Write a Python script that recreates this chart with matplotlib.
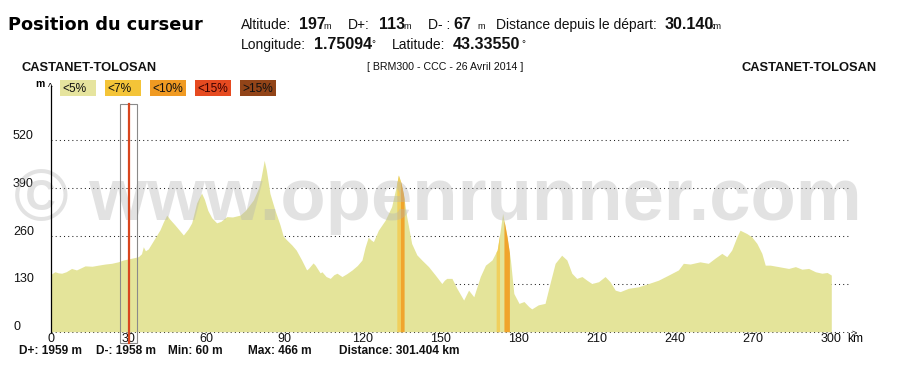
import numpy as np
import matplotlib
matplotlib.use("Agg")
import matplotlib.pyplot as plt
from matplotlib.patches import Rectangle
from matplotlib.transforms import blended_transform_factory, offset_copy

# ---------------- data ----------------
km = [0, 0.5, 1.7, 3, 4.3, 6, 8.1, 10, 13.3, 16, 18.4, 21, 23.5, 26, 28, 30, 32, 33.8,
      35, 35.7, 36.5, 37.6, 40.2, 42.1, 43.5, 44.7, 46, 47.9, 51.1, 53, 54.3, 55.5, 56.2,
      57, 58.1, 59.2, 60.5, 62, 63.9, 65.5, 67.8, 70, 72.9, 75, 78, 80, 81, 82.2, 83,
      84.4, 86.3, 88.3, 89.5, 90.8, 92.8, 94.5, 96.6, 98.5, 99.2, 101, 101.8, 103.7,
      104.4, 106, 107.6, 109, 110.2, 112.1, 114, 116, 118, 119.8, 121, 122.2, 123.2,
      124.2, 126.1, 128.7, 131.2, 132.8, 133.8, 134.8, 135.7, 137, 138.9, 140.9, 142.8,
      145.4, 148, 150.5, 151.5, 152.4, 154.4, 156.3, 158.9, 160.8, 162.8, 165.3, 167.3,
      169.8, 171.8, 173.0, 173.9, 175.6, 176.9, 178.2, 180.2, 182.1, 184, 185.1, 187.6,
      190.2, 192.1, 194.1, 196.6, 198.6, 200.5, 202.4, 204.4, 206.3, 208.2, 210.8, 213.3,
      215.2, 217.2, 219.1, 222.3, 226.1, 230, 233.8, 237.7, 241.5, 243.4, 246, 249.8, 253,
      255.6, 258.2, 260.1, 262, 264, 265.2, 267.8, 269.7, 271.7, 273.6, 274.9, 276.8, 280,
      283.9, 286.5, 289, 291.6, 294.2, 296.7, 298.7, 300.3]
elev = [150, 158, 163, 160, 159, 163, 172, 168, 179, 178, 181, 184, 186, 190, 195, 198, 201, 204,
        212, 231, 220, 225, 255, 277, 300, 317, 305, 290, 263, 280, 296, 330, 350,
        362, 377, 360, 330, 310, 296, 300, 313, 312, 317, 330, 358, 390, 420, 466, 440,
        376, 331, 290, 260, 250, 236, 222, 195, 168, 172, 187, 181, 160,
        163, 150, 145, 155, 159, 150, 158, 168, 180, 195, 230, 257, 250,
        245, 276, 303, 340, 390, 426, 405, 376, 313, 240, 209, 195,
        177, 154, 131, 140, 145, 145, 118, 86, 113, 95, 150, 181,
        195, 222, 276, 322, 258, 195, 104, 77, 82, 68, 62, 73,
        77, 131, 186, 208, 195, 159, 145, 150, 140, 131, 136, 150,
        136, 113, 109, 118, 122, 131, 140, 154, 168, 186, 184, 190, 186,
        200, 213, 204, 222, 258, 276, 267, 258, 240, 213, 181, 181, 177,
        172, 177, 170, 172, 163, 159, 161, 154]

# slope-class sections (km start, km end, class)
seg_start = [133.2, 134.6, 171.4, 174.4]
seg_end = [134.6, 136.0, 172.7, 176.5]
seg_class = ["<7%", "<10%", "<7%", "<10%"]

legend_labels = ["<5%", "<7%", "<10%", "<15%", ">15%"]
y_ticks = [0, 130, 260, 390, 520]
x_ticks = [0, 30, 60, 90, 120, 150, 180, 210, 240, 270, 300]

cursor_km = 30.140
cursor_alt = 197
cursor_dplus = 113
cursor_dminus = 67
cursor_lon = "1.75094"
cursor_lat = "43.33550"
tot_dplus = 1959
tot_dminus = 1958
alt_min = 60
alt_max = 466
tot_dist = "301.404"
place_start = "CASTANET-TOLOSAN"
place_end = "CASTANET-TOLOSAN"
event = "[ BRM300 - CCC - 26 Avril 2014 ]"

# ---------------- style ----------------
W, H = 913, 369
legend_colors = ["#e6e49e", "#f4c438", "#f09a22", "#e64a20", "#924418"]
strip_colors = {"<7%": "#f0cf5c", "<10%": "#f0a42c"}
fill_color = "#e4e49a"
SANS = ["Liberation Sans", "DejaVu Sans"]

fig = plt.figure(figsize=(W / 100, H / 100), dpi=100)
fig.patch.set_facecolor("white")

x0_px, x_right_px = 50.5, 862
y0_px, y_top_px = 331.7, 86
px_per_km = 2.6
px_per_m = 143.4 / 390
ax = fig.add_axes([x0_px / W, (H - y0_px) / H, (x_right_px - x0_px) / W, (y0_px - y_top_px) / H])
ax.set_xlim(0, (x_right_px - x0_px) / px_per_km)
ax.set_ylim(0, (y0_px - y_top_px) / px_per_m)
ax.set_facecolor("none")
for s in ["top", "right", "bottom"]:
    ax.spines[s].set_visible(False)
ax.spines["left"].set_linewidth(0.9)
ax.spines["left"].set_color("black")
ax.spines["left"].set_zorder(7)

def fx(px):
    return px / W

def fy(py):
    return 1 - py / H

# gridlines (dotted, behind fill)
grid_end = (850 - x0_px) / px_per_km
for t in y_ticks[1:]:
    ax.plot([0, grid_end], [t, t], color="#222222", lw=0.75, ls=(0, (1, 3)), zorder=1)
axis_end = (853 - x0_px) / px_per_km
ax.plot([0, axis_end], [0, 0], color="#222222", lw=0.75, ls=(0, (1, 3)), zorder=1, clip_on=False)

# profile
ax.fill_between(km, elev, 0, color=fill_color, lw=0, zorder=2)
for a, b, c in zip(seg_start, seg_end, seg_class):
    xs = np.linspace(a, b, 30)
    ys = np.interp(xs, km, elev)
    ax.fill_between(xs, ys, 0, color=strip_colors[c], lw=0, zorder=3)

# watermark
ax.text(fx(437.5), fy(220), "\u00a9 www.openrunner.com", transform=fig.transFigure,
        ha="center", va="baseline", fontsize=53.5,
        fontweight="bold", family=SANS, color="#b4b4b4", alpha=0.38, zorder=5)

# cursor
half = 3.3
ax.add_patch(Rectangle((cursor_km - half, -31), 2 * half, 650, fill=False,
                       ec="#8a8a8a", lw=0.8, zorder=6, clip_on=False))
ax.plot([cursor_km, cursor_km], [-31, 619], color="#d8461e", lw=1.6, zorder=6, clip_on=False)

# ticks
ax.set_xticks(x_ticks)
ax.set_xticklabels([str(v) for v in x_ticks], family=SANS, fontsize=9, color="#111111")
ax.tick_params(axis="x", length=0, pad=0.8)
ax.set_yticks([])
ytrans = blended_transform_factory(ax.transAxes, ax.transData)
for t in y_ticks:
    tr = offset_copy(ytrans, fig=fig, x=0, y=4.5, units="dots")
    ax.text((13 - x0_px) / (x_right_px - x0_px), t, str(t), transform=tr, ha="left",
            va="center", fontsize=9, family=SANS, color="#111111", clip_on=False)

# axis decorations
fig.text(fx(40), fy(87), "m", ha="center", va="baseline", fontsize=7.5, fontweight="bold", family=SANS)
fig.text(fx(50.5), fy(91), "^", ha="center", va="baseline", fontsize=7, family=SANS)
fig.text(fx(854.5), fy(335.5), ">", ha="center", va="baseline", fontsize=6.5, family=SANS)
fig.text(fx(855), fy(342.5), "km", ha="center", va="baseline", fontsize=8.6, family=SANS)

# header
fig.text(fx(8), fy(30), "Position du curseur", ha="left", va="baseline",
         fontsize=12.8, fontweight="bold", family=["DejaVu Sans"])
def piece(x, y, s, size, bold=False):
    fig.text(fx(x), fy(y), s, ha="left", va="baseline", fontsize=size,
             fontweight="bold" if bold else "normal", family=SANS, color="#111111")

piece(241, 29, "Altitude:", 10)
piece(299, 29, str(cursor_alt), 11.5, True)
piece(323, 29, "m", 6.5)
piece(348, 29, "D+:", 10)
piece(379, 29, str(cursor_dplus), 11.5, True)
piece(403, 29, "m", 6.5)
piece(428, 29, "D- :", 10)
piece(453, 29, str(cursor_dminus), 11.5, True)
piece(477, 29, "m", 6.5)
piece(496, 29, "Distance depuis le d\u00e9part:", 10)
piece(665, 29, f"{cursor_km:.3f}", 11.5, True)
piece(709, 29, "km", 6.5)
piece(241, 49, "Longitude:", 10)
piece(314, 49, cursor_lon, 11.5, True)
piece(371, 47, "\u00b0", 7)
piece(392, 49, "Latitude:", 10)
piece(453, 49, cursor_lat, 11.5, True)
piece(521, 47, "\u00b0", 7)

fig.text(fx(21), fy(71), place_start, ha="left", va="baseline", fontsize=9.3,
         fontweight="bold", family=SANS, color="#111111")
fig.text(fx(877), fy(71), place_end, ha="right", va="baseline", fontsize=9.3,
         fontweight="bold", family=SANS, color="#111111")
fig.text(fx(367), fy(70), event, ha="left", va="baseline", fontsize=7.7,
         family=SANS, color="#111111")

# legend boxes
for i, (lab, col) in enumerate(zip(legend_labels, legend_colors)):
    bx = 60 + 45 * i
    fig.patches.append(Rectangle((fx(bx), fy(95.5)), 36 / W, 16 / H,
                                 transform=fig.transFigure, fc=col, ec="none"))
    fig.text(fx(bx + 2), fy(92.5), lab, ha="left", va="baseline", fontsize=8.6,
             family=SANS, color="#3a0000" if i == 3 else "#111111")

# footer stats
foot = [(19, f"D+: {tot_dplus} m"), (96, f"D-: {tot_dminus} m"), (168, f"Min: {alt_min} m"),
        (248, f"Max: {alt_max} m"), (339, f"Distance: {tot_dist} km")]
for x, s in foot:
    fig.text(fx(x), fy(353.5), s, ha="left", va="baseline", fontsize=8.6,
             fontweight="bold", family=SANS, color="#111111")

fig.savefig("out.png", dpi=100, facecolor="white")
